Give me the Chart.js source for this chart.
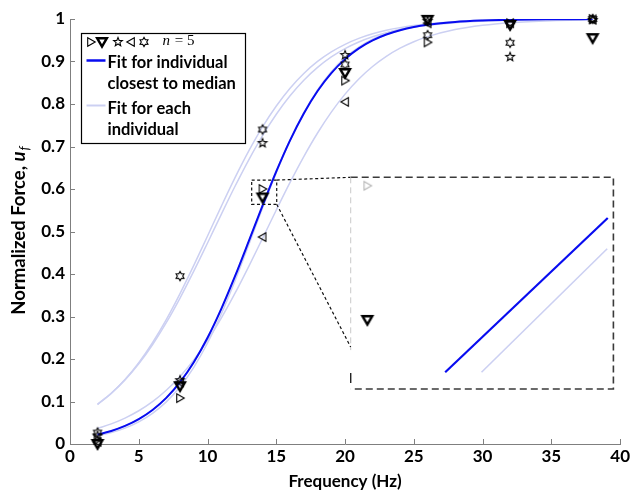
<!DOCTYPE html>
<html>
<head>
<meta charset="utf-8">
<script src="https://cdn.jsdelivr.net/npm/chart.js@4.4.1/dist/chart.umd.min.js"></script>
<style>
  html, body { margin: 0; padding: 0; background: #fff; }
  #wrap { position: relative; width: 632px; height: 490px; }
  #main { position: absolute; left: 0; top: 0; }
  #inset { position: absolute; }
</style>
</head>
<body>
<div id="wrap">
  <canvas id="main" width="632" height="490"></canvas>
  <canvas id="inset"></canvas>
</div>
<script>
// Stimulation frequencies (Hz)
const freqs = [2, 8, 14, 20, 26, 32, 38];

// Measured normalized force, one series per individual (n = 5)
const forceTriRight = [0.010, 0.108, 0.600, 0.855, 0.945, 0.990, 1.000];
const forceTriDown  = [0.000, 0.136, 0.580, 0.873, 0.998, 0.986, 0.955];
const forceStar     = [0.020, 0.150, 0.708, 0.915, 0.995, 0.911, 0.998];
const forceTriLeft  = [0.005, 0.145, 0.487, 0.805, 0.990, 0.990, 0.999];
const forceHexagram = [0.027, 0.395, 0.740, 0.893, 0.962, 0.944, 1.000];

// Fitted force-frequency curves, sampled along frequency
const fitFreq     = [2,3,4,5,6,7,8,9,10,11,12,13,14,15,16,17,18,19,20,21,22,23,24,25,26,28,30,32,35,38];
const fitMedian   = [0.0222,0.0307,0.0425,0.0585,0.0800,0.1085,0.1454,0.1923,0.2499,0.3180,0.3948,0.4773,0.5610,0.6414,0.7145,0.7778,0.8305,0.8727,0.9056,0.9307,0.9495,0.9634,0.9735,0.9810,0.9863,0.9930,0.9964,0.9982,0.9993,0.9998];
const fitHexagram = [0.0926,0.1190,0.1516,0.1912,0.2383,0.2927,0.3539,0.4202,0.4895,0.5592,0.6267,0.6896,0.7462,0.7954,0.8373,0.8719,0.9001,0.9226,0.9404,0.9543,0.9651,0.9734,0.9797,0.9846,0.9883,0.9933,0.9962,0.9978,0.9991,0.9996];
const fitStar     = [0.0938,0.1194,0.1509,0.1888,0.2336,0.2854,0.3434,0.4066,0.4730,0.5404,0.6064,0.6686,0.7255,0.7759,0.8193,0.8559,0.8861,0.9107,0.9303,0.9459,0.9582,0.9678,0.9752,0.9810,0.9854,0.9914,0.9950,0.9971,0.9987,0.9994];
const fitTriRight = [0.0190,0.0267,0.0374,0.0521,0.0722,0.0991,0.1347,0.1805,0.2376,0.3060,0.3842,0.4688,0.5553,0.6385,0.7143,0.7796,0.8334,0.8762,0.9092,0.9341,0.9525,0.9659,0.9757,0.9827,0.9877,0.9938,0.9969,0.9985,0.9995,0.9998];
const fitTriLeft  = [0.0367,0.0474,0.0610,0.0782,0.0997,0.1264,0.1590,0.1980,0.2438,0.2963,0.3548,0.4181,0.4840,0.5506,0.6154,0.6763,0.7318,0.7809,0.8232,0.8588,0.8882,0.9121,0.9313,0.9465,0.9585,0.9752,0.9853,0.9914,0.9961,0.9982];

// Close-up segments of the fits shown in the magnified panel
const zoomMedianFreq   = [14.135, 14.417];
const zoomMedianForce  = [0.5722, 0.5952];
const zoomRightFreq    = [14.198, 14.416];
const zoomRightForce   = [0.5722, 0.5906];

// Axis ticks
const xTickValues = [0, 5, 10, 15, 20, 25, 30, 35, 40];
const xTickLabels = ['0', '5', '10', '15', '20', '25', '30', '35', '40'];
const yTickValues = [0, 0.1, 0.2, 0.3, 0.4, 0.5, 0.6, 0.7, 0.8, 0.9, 1];
const yTickLabels = ['0', '0.1', '0.2', '0.3', '0.4', '0.5', '0.6', '0.7', '0.8', '0.9', '1'];

// Magnifier geometry in data units (small box, big panel, panel view limits)
const magnifySource = { x0: 13.21, x1: 15.03, y0: 0.564, y1: 0.621 };
const magnifyPanel  = { x0: 20.41, x1: 39.51, y0: 0.1294, y1: 0.6275, diagY: 0.228 };
const panelView     = { xMin: 13.9716, xMax: 14.4261, yMin: 0.5697, yMax: 0.6013 };

const BLUE = 'rgb(8,12,240)';
const LIGHT = 'rgb(204,208,242)';
const FONT = 'Lato';

// ---- marker glyphs ----
function glyph(draw, w, h) {
  const c = document.createElement('canvas');
  c.width = w || 14; c.height = h || 14;
  const g = c.getContext('2d');
  g.translate(c.width / 2, c.height / 2);
  g.lineJoin = 'miter';
  draw(g);
  return c;
}
function poly(g, pts) {
  g.beginPath();
  pts.forEach((p, i) => i ? g.lineTo(p[0], p[1]) : g.moveTo(p[0], p[1]));
  g.closePath();
}
function starPts(n, ro, ri, rot) {
  const pts = [];
  for (let i = 0; i < 2 * n; i++) {
    const r = i % 2 ? ri : ro;
    const a = rot + i * Math.PI / n;
    pts.push([r * Math.sin(a), -r * Math.cos(a)]);
  }
  return pts;
}
const mkTriRight = (col) => glyph(g => { poly(g, [[-3.3,-4.2],[4.2,0],[-3.3,4.2]]); g.lineWidth = 1.1; g.strokeStyle = col; g.stroke(); });
const mkTriLeft  = (col) => glyph(g => { poly(g, [[3.3,-4.2],[-4.2,0],[3.3,4.2]]); g.lineWidth = 1.1; g.strokeStyle = col; g.stroke(); });
const mkTriDown  = (col) => glyph(g => { poly(g, [[-4.8,-3.7],[4.8,-3.7],[0,4.6]]); g.lineWidth = 2.5; g.strokeStyle = col; g.stroke(); }, 16, 16);
const mkStar     = (col) => glyph(g => { poly(g, starPts(5, 4.6, 2.0, 0)); g.lineWidth = 1.1; g.strokeStyle = col; g.stroke(); });
const mkHexagram = (col) => glyph(g => { poly(g, starPts(6, 4.6, 2.7, 0)); g.lineWidth = 1.1; g.strokeStyle = col; g.stroke(); });

const icoTriRight = mkTriRight('#000');
const icoTriLeft  = mkTriLeft('#000');
const icoTriDown  = mkTriDown('#000');
const icoStar     = mkStar('#000');
const icoHexagram = mkHexagram('#000');
const icoTriRightGrey = mkTriRight('#b4b4b4');

const pairs = (xs, ys) => xs.map((x, i) => ({ x: x, y: ys[i] }));

function pointSet(label, values, icon) {
  return {
    label: label, data: pairs(freqs, values), showLine: false,
    pointStyle: icon, pointRadius: 6, pointHoverRadius: 6, order: 0, clip: false
  };
}
function fitSet(label, values, color, width, order) {
  return {
    label: label, data: pairs(fitFreq, values), showLine: true,
    borderColor: color, borderWidth: width, pointRadius: 0, pointHoverRadius: 0,
    cubicInterpolationMode: 'monotone', order: order
  };
}

// ---- decorations: inward ticks, magnifier, legend, axis titles ----
const decorations = {
  id: 'decorations',
  afterDatasetsDraw(chart) {
    const { ctx, chartArea: a, scales: { x, y } } = chart;
    ctx.save();

    // inward tick marks
    ctx.strokeStyle = '#7f7f7f';
    ctx.lineWidth = 1;
    ctx.beginPath();
    xTickValues.forEach(v => { const px = Math.round(x.getPixelForValue(v)) + 0.5; ctx.moveTo(px, a.bottom); ctx.lineTo(px, a.bottom - 5); });
    yTickValues.forEach(v => { const py = Math.round(y.getPixelForValue(v)) + 0.5; ctx.moveTo(a.left, py); ctx.lineTo(a.left + 5, py); });
    ctx.stroke();

    // magnifier: source box and connectors
    const sx0 = x.getPixelForValue(magnifySource.x0), sx1 = x.getPixelForValue(magnifySource.x1);
    const sy0 = y.getPixelForValue(magnifySource.y0), sy1 = y.getPixelForValue(magnifySource.y1);
    const px0 = x.getPixelForValue(magnifyPanel.x0), px1 = x.getPixelForValue(magnifyPanel.x1);
    const py0 = y.getPixelForValue(magnifyPanel.y0), py1 = y.getPixelForValue(magnifyPanel.y1);
    const pyd = y.getPixelForValue(magnifyPanel.diagY);

    ctx.strokeStyle = '#111';
    ctx.lineWidth = 1.2;
    ctx.setLineDash([3, 2.5]);
    ctx.strokeRect(sx0, sy1, sx1 - sx0, sy0 - sy1);
    ctx.beginPath();
    ctx.moveTo(sx1, sy1); ctx.lineTo(px0, py1);
    ctx.moveTo(sx1, sy0); ctx.lineTo(px0, pyd);
    ctx.stroke();

    // magnified panel frame
    ctx.strokeStyle = '#3a3a3a';
    ctx.lineWidth = 1.6;
    ctx.setLineDash([7, 4]);
    ctx.beginPath();
    ctx.moveTo(px0, py1); ctx.lineTo(px1, py1); ctx.lineTo(px1, py0); ctx.lineTo(px0, py0);
    ctx.stroke();
    ctx.strokeStyle = '#c8c8c8';
    ctx.lineWidth = 1;
    ctx.setLineDash([6, 4]);
    ctx.beginPath(); ctx.moveTo(px0, py1); ctx.lineTo(px0, pyd + 3); ctx.stroke();
    ctx.setLineDash([]);
    ctx.strokeStyle = '#222';
    ctx.lineWidth = 1.4;
    ctx.beginPath(); ctx.moveTo(px0, py0 - 16); ctx.lineTo(px0, py0 - 6); ctx.stroke();

    // legend
    const lx = a.left + 11.5, ly = a.top + 14.5;
    ctx.fillStyle = '#fff';
    ctx.fillRect(lx, ly, 164, 110);
    ctx.strokeStyle = '#000';
    ctx.lineWidth = 1.2;
    ctx.strokeRect(lx, ly, 164, 110);
    const row1 = ly + 8;
    [[icoTriRight, 9], [icoTriDown, 20.5], [icoStar, 36], [icoTriLeft, 49.5], [icoHexagram, 62.5]].forEach(([ico, dx]) => {
      ctx.drawImage(ico, Math.round(lx + dx - ico.width / 2), Math.round(row1 - ico.height / 2));
    });
    ctx.fillStyle = '#000';
    ctx.textBaseline = 'middle';
    ctx.textAlign = 'left';
    ctx.font = 'italic 15px "Liberation Serif"';
    ctx.fillText('n', lx + 81, row1);
    const nw = ctx.measureText('n').width;
    ctx.font = '15px "Liberation Serif"';
    ctx.fillText(' = 5', lx + 81 + nw + 1, row1);

    ctx.lineWidth = 2.5;
    ctx.strokeStyle = BLUE;
    ctx.beginPath(); ctx.moveTo(lx + 5, ly + 27); ctx.lineTo(lx + 24, ly + 27); ctx.stroke();
    ctx.lineWidth = 2;
    ctx.strokeStyle = LIGHT;
    ctx.beginPath(); ctx.moveTo(lx + 5, ly + 72); ctx.lineTo(lx + 24, ly + 72); ctx.stroke();

    ctx.font = 'bold 16.5px ' + FONT;
    ctx.fillStyle = '#000';
    ctx.fillText('Fit for individual', lx + 26, ly + 29);
    ctx.fillText('closest to median', lx + 26, ly + 50);
    ctx.fillText('Fit for each', lx + 26, ly + 75);
    ctx.fillText('individual', lx + 26, ly + 96);

    // x-axis title
    ctx.font = 'bold 17px ' + FONT;
    ctx.textAlign = 'center';
    ctx.fillText('Frequency (Hz)', (a.left + a.right) / 2, 482);

    // y-axis title with italic subscripted symbol
    ctx.save();
    ctx.translate(19, (a.top + a.bottom) / 2 - 1);
    ctx.rotate(-Math.PI / 2);
    const partA = 'Normalized Force, ';
    ctx.font = 'bold 18.5px ' + FONT;
    const wA = ctx.measureText(partA).width;
    ctx.font = 'bold italic 18.5px ' + FONT;
    const wU = ctx.measureText('u').width;
    ctx.font = 'italic 13px ' + FONT;
    const wF = ctx.measureText('f').width;
    const start = -(wA + wU + wF + 1) / 2;
    ctx.textAlign = 'left';
    ctx.textBaseline = 'alphabetic';
    ctx.font = 'bold 18.5px ' + FONT;
    ctx.fillText(partA, start, 6);
    ctx.font = 'bold italic 18.5px ' + FONT;
    ctx.fillText('u', start + wA, 6);
    ctx.font = 'italic 13px ' + FONT;
    ctx.fillText('f', start + wA + wU + 1, 10);
    ctx.restore();

    ctx.restore();
  }
};

Chart.defaults.font.family = FONT;
Chart.defaults.font.size = 17;
Chart.defaults.font.weight = 'bold';
Chart.defaults.color = '#000';

const mainChart = new Chart(document.getElementById('main'), {
  type: 'scatter',
  data: {
    datasets: [
      pointSet('▷', forceTriRight, icoTriRight),
      pointSet('▽', forceTriDown, icoTriDown),
      pointSet('☆', forceStar, icoStar),
      pointSet('◁', forceTriLeft, icoTriLeft),
      pointSet('✡', forceHexagram, icoHexagram),
      fitSet('Fit for individual closest to median', fitMedian, BLUE, 2, 1),
      fitSet('Fit for each individual', fitMedian, LIGHT, 1.5, 2),
      fitSet('Fit for each individual', fitHexagram, LIGHT, 1.5, 2),
      fitSet('Fit for each individual', fitStar, LIGHT, 1.5, 2),
      fitSet('Fit for each individual', fitTriRight, LIGHT, 1.5, 2),
      fitSet('Fit for each individual', fitTriLeft, LIGHT, 1.5, 2)
    ]
  },
  options: {
    responsive: false,
    animation: false,
    events: [],
    layout: { autoPadding: false, padding: { top: 19, right: 10, left: 0, bottom: 0 } },
    plugins: { legend: { display: false }, tooltip: { enabled: false } },
    scales: {
      x: {
        type: 'linear', min: 0, max: 40,
        afterBuildTicks: s => { s.ticks = xTickValues.map(v => ({ value: v })); },
        afterFit: s => { s.height = 46; },
        ticks: { callback: (v, i) => xTickLabels[i], padding: 2, maxRotation: 0, autoSkip: false },
        grid: { display: false, drawTicks: false },
        border: { display: true, color: '#7f7f7f', width: 1 }
      },
      y: {
        type: 'linear', min: 0, max: 1,
        afterBuildTicks: s => { s.ticks = yTickValues.map(v => ({ value: v })); },
        afterFit: s => { s.width = 70; },
        ticks: { callback: (v, i) => yTickLabels[i], padding: 5, autoSkip: false },
        grid: { display: false, drawTicks: false },
        border: { display: true, color: '#7f7f7f', width: 1 }
      }
    }
  },
  plugins: [decorations]
});

// ---- magnified panel, stacked over the main chart ----
const mxs = mainChart.scales.x, mys = mainChart.scales.y;
const panelLeft = Math.round(mxs.getPixelForValue(magnifyPanel.x0));
const panelTop = Math.round(mys.getPixelForValue(magnifyPanel.y1));
const panelW = Math.round(mxs.getPixelForValue(magnifyPanel.x1)) - panelLeft;
const panelH = Math.round(mys.getPixelForValue(magnifyPanel.y0)) - panelTop;
const insetCanvas = document.getElementById('inset');
insetCanvas.width = panelW; insetCanvas.height = panelH;
insetCanvas.style.left = panelLeft + 'px';
insetCanvas.style.top = panelTop + 'px';
insetCanvas.style.width = panelW + 'px';
insetCanvas.style.height = panelH + 'px';

new Chart(insetCanvas, {
  type: 'scatter',
  data: {
    datasets: [
      { label: '▷', data: [{ x: freqs[2], y: forceTriRight[2] }], pointStyle: icoTriRightGrey, pointRadius: 6, order: 0, clip: false },
      { label: '▽', data: [{ x: freqs[2], y: forceTriDown[2] }], pointStyle: icoTriDown, pointRadius: 6, order: 0, clip: false },
      { label: 'median fit', data: pairs(zoomMedianFreq, zoomMedianForce), showLine: true, borderColor: BLUE, borderWidth: 2.2, pointRadius: 0, order: 1 },
      { label: 'individual fit', data: pairs(zoomRightFreq, zoomRightForce), showLine: true, borderColor: LIGHT, borderWidth: 1.6, pointRadius: 0, order: 2 }
    ]
  },
  options: {
    responsive: false,
    animation: false,
    events: [],
    layout: { autoPadding: false, padding: 0 },
    plugins: { legend: { display: false }, tooltip: { enabled: false } },
    scales: {
      x: { type: 'linear', display: false, min: panelView.xMin, max: panelView.xMax },
      y: { type: 'linear', display: false, min: panelView.yMin, max: panelView.yMax }
    }
  }
});
</script>
</body>
</html>
